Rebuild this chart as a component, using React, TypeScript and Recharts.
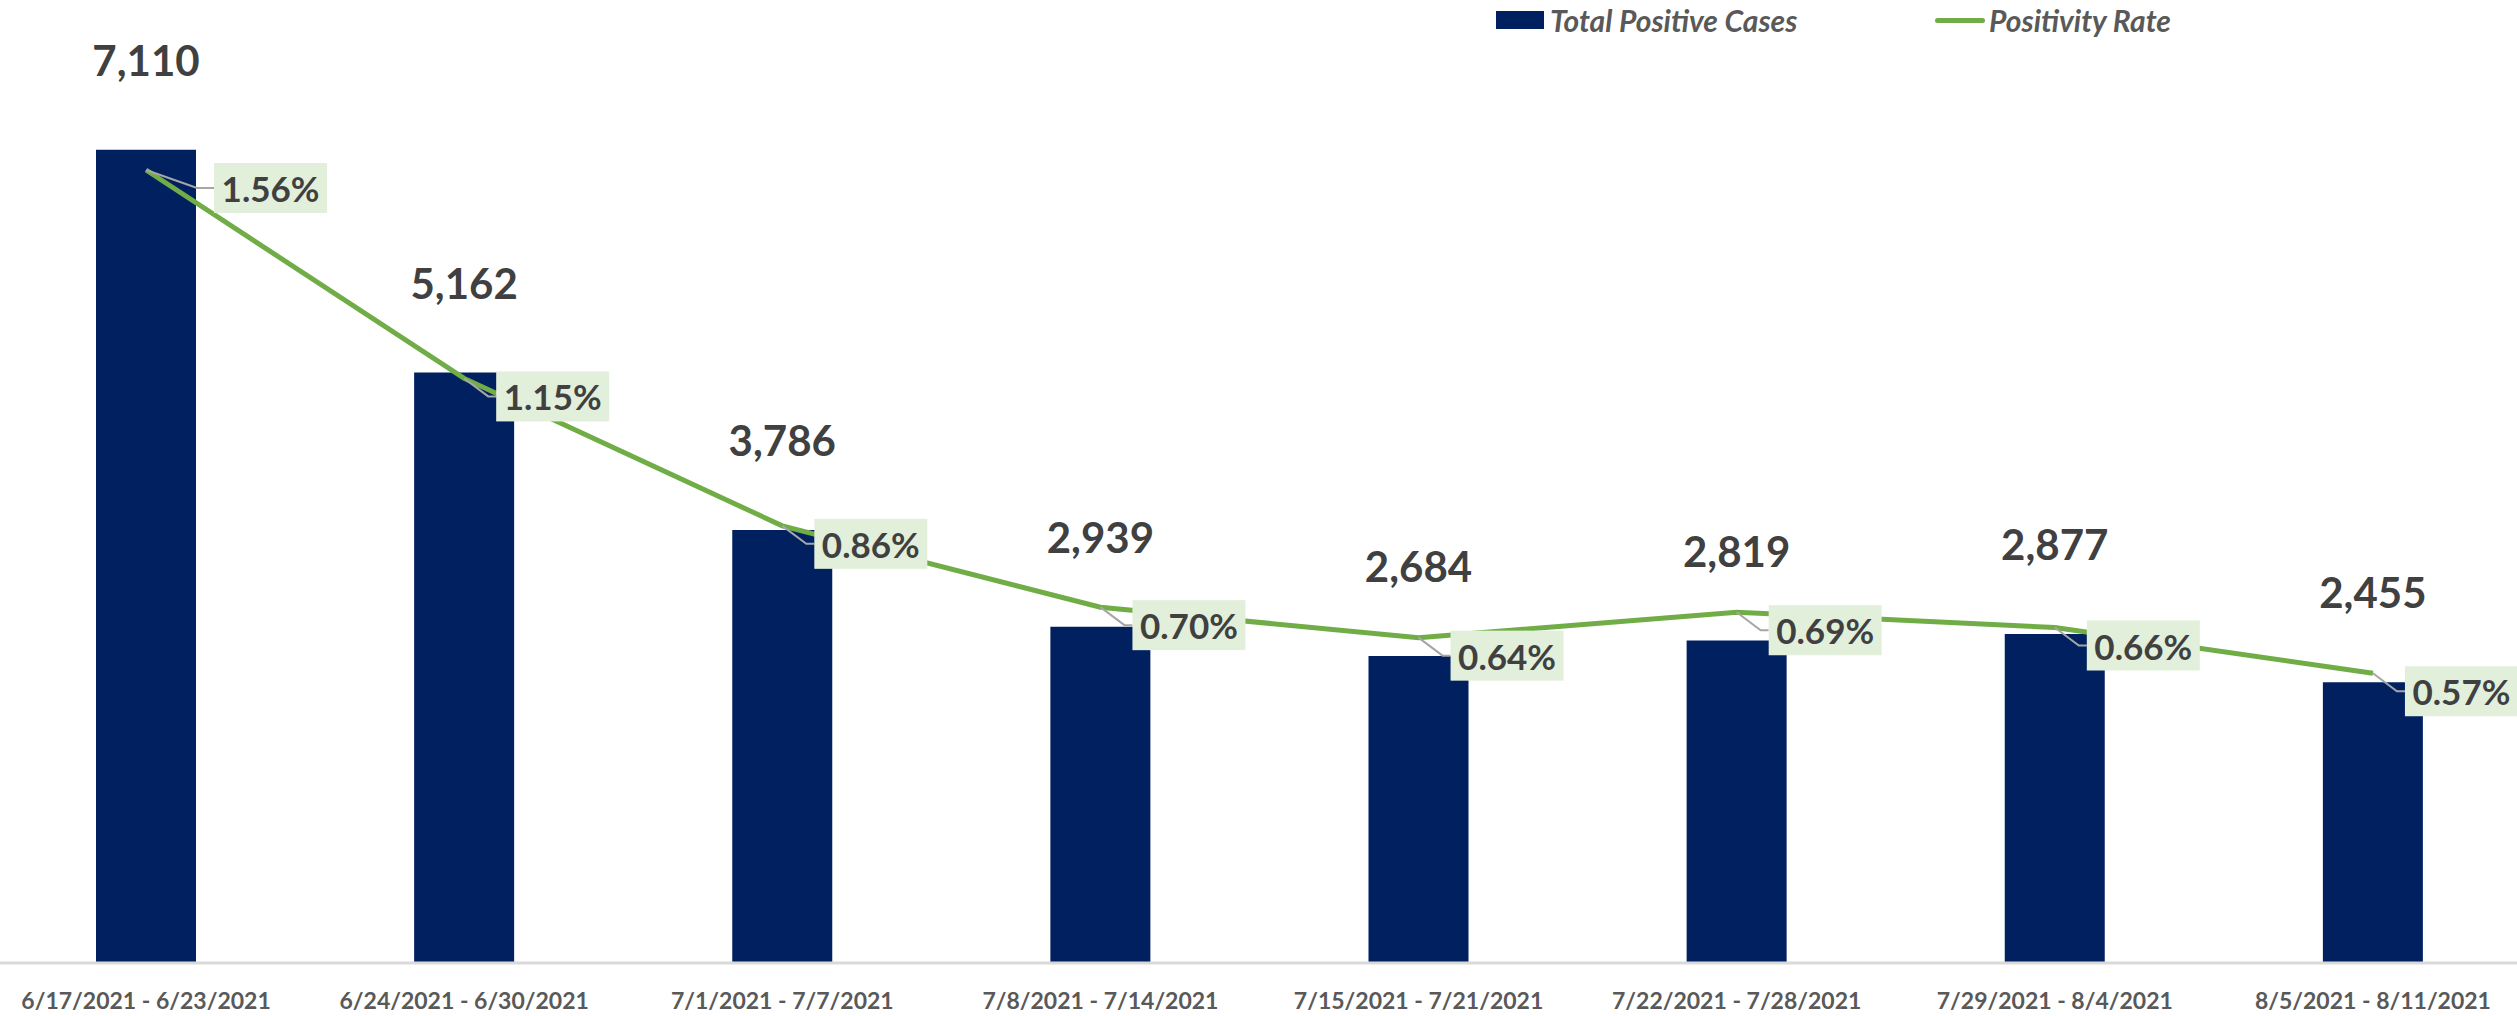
import { ComposedChart, Bar, Line, XAxis, YAxis, LabelList } from 'recharts';

const weeks = [
  '6/17/2021 - 6/23/2021',
  '6/24/2021 - 6/30/2021',
  '7/1/2021 - 7/7/2021',
  '7/8/2021 - 7/14/2021',
  '7/15/2021 - 7/21/2021',
  '7/22/2021 - 7/28/2021',
  '7/29/2021 - 8/4/2021',
  '8/5/2021 - 8/11/2021',
];
const totalPositiveCases = [7110, 5162, 3786, 2939, 2684, 2819, 2877, 2455];
const positivityRate = [0.0156, 0.0115, 0.0086, 0.007, 0.0064, 0.0069, 0.0066, 0.0057];
const seriesNames = ['Total Positive Cases', 'Positivity Rate'];

const NAVY = '#002060';
const GREEN = '#70AD47';
const FONT = 'Lato, "Open Sans", sans-serif';

const data = weeks.map((week, i) => ({
  week,
  cases: totalPositiveCases[i],
  rate: positivityRate[i],
}));

function CaseLabel(props: any) {
  const { x, y, width, value } = props;
  return (
    <text
      x={x + width / 2}
      y={y - 90}
      textAnchor="middle"
      dominantBaseline="central"
      fill="#404040"
      fontSize={42}
      fontWeight={700}
      fontFamily={FONT}
    >
      {Number(value).toLocaleString('en-US')}
    </text>
  );
}

function RateLabel(props: any) {
  const { x, y, value, index } = props;
  // first label sits further out, like the original
  const dx = index === 0 ? 68 : 32;
  const dy = 18;
  const boxW = 113;
  const boxH = 50;
  const bx = x + dx;
  const cy = y + dy;
  return (
    <g>
      <path
        d={`M${x},${y} L${x + dx * 0.75},${cy} L${bx},${cy}`}
        fill="none"
        stroke="#a6a6a6"
        strokeWidth={2}
      />
      <rect x={bx} y={cy - boxH / 2} width={boxW} height={boxH} fill="#E2EFDA" />
      <text
        x={bx + boxW / 2}
        y={cy}
        textAnchor="middle"
        dominantBaseline="central"
        fill="#404040"
        fontSize={35}
        fontWeight={700}
        fontFamily={FONT}
      >
        {(Number(value) * 100).toFixed(2)}%
      </text>
    </g>
  );
}

function WeekTick(props: any) {
  const { x, y, payload } = props;
  return (
    <text
      x={x}
      y={y + 29}
      textAnchor="middle"
      dominantBaseline="central"
      fill="#595959"
      fontSize={23}
      fontWeight={700}
      fontFamily={FONT}
    >
      {payload.value}
    </text>
  );
}

export default function App() {
  return (
    <div
      style={{
        position: 'absolute',
        left: 0,
        top: 0,
        width: 2517,
        height: 1016,
        overflow: 'hidden',
        background: '#fff',
        fontFamily: FONT,
      }}
    >
      <div style={{ position: 'absolute', left: -13, top: 0 }}>
        <ComposedChart
          width={2545}
          height={1016}
          data={data}
          margin={{ top: 48, right: 0, bottom: 0, left: 0 }}
        >
          <XAxis
            dataKey="week"
            height={53}
            axisLine={{ stroke: '#d9d9d9', strokeWidth: 3 }}
            tickLine={false}
            tick={<WeekTick />}
            interval={0}
          />
          <YAxis yAxisId="cases" hide domain={[0, 8000]} />
          <YAxis yAxisId="rate" orientation="right" hide domain={[0, 0.018]} />
          <Bar yAxisId="cases" dataKey="cases" fill={NAVY} barSize={100} isAnimationActive={false}>
            <LabelList dataKey="cases" content={<CaseLabel />} />
          </Bar>
          <Line
            yAxisId="rate"
            type="linear"
            dataKey="rate"
            stroke={GREEN}
            strokeWidth={5}
            dot={false}
            isAnimationActive={false}
          >
            <LabelList dataKey="rate" content={<RateLabel />} />
          </Line>
        </ComposedChart>
      </div>

      {/* Legend */}
      <div
        style={{
          position: 'absolute',
          top: 3,
          left: 1496,
          display: 'flex',
          alignItems: 'center',
          height: 34,
          color: '#595959',
          fontStyle: 'italic',
          fontWeight: 700,
          fontSize: 30,
        }}
      >
        <div style={{ width: 48, height: 18, background: NAVY, marginRight: 6 }} />
        <span style={{ width: 385 }}>{seriesNames[0]}</span>
        <div style={{ width: 50, height: 5, borderRadius: 3, background: GREEN, marginRight: 4 }} />
        <span>{seriesNames[1]}</span>
      </div>
    </div>
  );
}
